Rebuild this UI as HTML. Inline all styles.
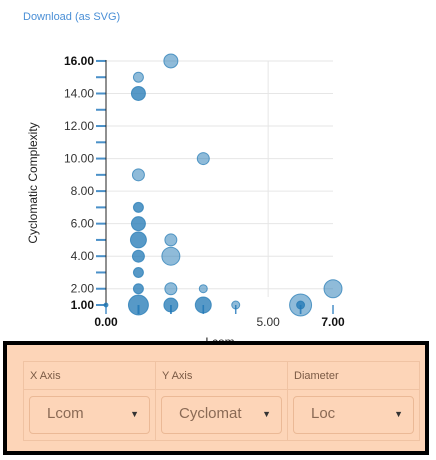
<!DOCTYPE html>
<html><head><meta charset="utf-8"><style>
body{margin:0;width:436px;height:460px;background:#fff;font-family:"Liberation Sans",sans-serif;position:relative;overflow:hidden}
#dl{position:absolute;left:23px;top:11px;font-size:11px;color:#4a8fd6;text-decoration:none}
svg{position:absolute;left:0;top:0}
#panel{position:absolute;left:3px;top:341px;width:418px;height:106px;border:4px solid #000;background:#fdd5b8}
table{position:absolute;left:16px;top:16px;border-collapse:collapse}
td{border:1px solid #f0c3a3;width:132px;font-size:11px;color:#7a5a45;padding:0 6px;box-sizing:border-box}
.hd td{height:28px}
.sel{height:36px;margin:0 -1px;border:1px solid #ebb996;border-radius:4px;font-size:15px;color:#8a6a55;line-height:34px;padding-left:17px;position:relative}
.sel span{position:absolute;right:10px;top:0;font-size:9px;color:#333}
</style></head><body>
<a id="dl" href="#">Download (as SVG)</a>
<svg id="chart" width="436" height="460"></svg>
<div id="panel">
<table>
<tr class="hd"><td>X Axis</td><td>Y Axis</td><td>Diameter</td></tr>
<tr><td style="height:51px"><div class="sel">Lcom<span>▼</span></div></td>
<td><div class="sel">Cyclomat<span>▼</span></div></td>
<td><div class="sel">Loc<span>▼</span></div></td></tr>
</table></div>
<script>
const xs=[0,1,1,1,1,1,1,1,1,1,1,2,2,2,2,2,3,3,3,4,6,6,7];
const ys=[1,1,2,3,4,5,6,7,9,14,15,1,2,4,5,16,1,2,10,1,1,1,2];
const rs=[2,10,5,5,6,8,7,5,6,7,5,7,6,9,6,7,8,4,6,4,11,4,9];
const dark=[1,1,1,1,1,1,1,1,0,1,0,1,0,0,0,0,1,0,0,0,0,1,0];
const yTicks=[1,2,4,6,8,10,12,14,16];
const xTicks=[0,5,7];
const NS="http://www.w3.org/2000/svg",svg=document.getElementById('chart');
const X=v=>106+v*32.43, Y=v=>305-(v-1)*16.27;
function mk(t,a){const e=document.createElementNS(NS,t);for(const k in a)e.setAttribute(k,a[k]);svg.appendChild(e);return e;}
for(let v=2;v<=16;v+=2){const g=mk('line',{x1:106,x2:333,y1:Y(v),y2:Y(v),stroke:'#e6e6e6'});

}
const vg=mk('line',{x1:X(5),x2:X(5),y1:Y(16),y2:297,stroke:'#e6e6e6'});


for(let v=1;v<=16;v++){const t=mk('line',{x1:96,x2:106,y1:Y(v),y2:Y(v),stroke:'#4a90c8','stroke-width':2});

}
const ax=mk('line',{x1:106,x2:106,y1:Y(16)-1,y2:306,stroke:'#222'});


yTicks.forEach(v=>{const b=(v==1||v==16);const t=mk('text',{x:94,y:Y(v)+4,'text-anchor':'end','font-size':12,'font-weight':b?'bold':'normal',fill:b?'#111':'#333'});t.textContent=v.toFixed(2);

});
xTicks.forEach(v=>{const b=(v!=5);const t=mk('text',{x:X(v),y:326,'text-anchor':'middle','font-size':12,'font-weight':b?'bold':'normal',fill:b?'#111':'#333'});t.textContent=v.toFixed(2);

});
xs.forEach((x,i)=>{const l=mk('line',{x1:X(x),x2:X(x),y1:Y(1),y2:Y(1)+9,stroke:'#4a90c8','stroke-width':1.5});

});
xs.forEach((x,i)=>{const c=mk('circle',{cx:X(x),cy:Y(ys[i]),r:rs[i],fill:dark[i]?'rgba(31,119,180,0.75)':'rgba(31,119,180,0.5)',stroke:'rgba(31,119,180,0.7)'});

});
const yl=mk('text',{x:0,y:0,transform:'translate(37,183) rotate(-90)','text-anchor':'middle','font-size':12,fill:'#222'});yl.textContent='Cyclomatic Complexity';


const xl=mk('text',{x:220,y:346,'text-anchor':'middle','font-size':12,fill:'#222'});xl.textContent='Lcom';


</script>
</body></html>
